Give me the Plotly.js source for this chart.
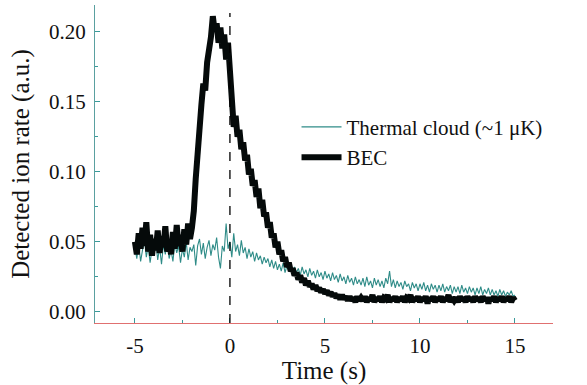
<!DOCTYPE html>
<html>
<head>
<meta charset="utf-8">
<script src="https://cdn.plot.ly/plotly-3.0.1.min.js"></script>
</head>
<body style="margin:0;background:#fff">
<div id="chart" style="width:587px;height:385px"></div>
<script>
const timeS = [
-5.0,-4.9,-4.8,-4.7,-4.6,-4.5,-4.4,-4.3,-4.2,-4.1,
-4.0,-3.9,-3.8,-3.7,-3.6,-3.5,-3.4,-3.3,-3.2,-3.1,
-3.0,-2.9,-2.8,-2.7,-2.6,-2.5,-2.4,-2.3,-2.2,-2.1,
-2.0,-1.9,-1.8,-1.7,-1.6,-1.5,-1.4,-1.3,-1.2,-1.1,
-1.0,-0.9,-0.8,-0.7,-0.6,-0.5,-0.4,-0.3,-0.2,-0.1,
0.0,0.1,0.2,0.3,0.4,0.5,0.6,0.7,0.8,0.9,
1.0,1.1,1.2,1.3,1.4,1.5,1.6,1.7,1.8,1.9,
2.0,2.1,2.2,2.3,2.4,2.5,2.6,2.7,2.8,2.9,
3.0,3.1,3.2,3.3,3.4,3.5,3.6,3.7,3.8,3.9,
4.0,4.1,4.2,4.3,4.4,4.5,4.6,4.7,4.8,4.9,
5.0,5.1,5.2,5.3,5.4,5.5,5.6,5.7,5.8,5.9,
6.0,6.1,6.2,6.3,6.4,6.5,6.6,6.7,6.8,6.9,
7.0,7.1,7.2,7.3,7.4,7.5,7.6,7.7,7.8,7.9,
8.0,8.1,8.2,8.3,8.4,8.5,8.6,8.7,8.8,8.9,
9.0,9.1,9.2,9.3,9.4,9.5,9.6,9.7,9.8,9.9,
10.0,10.1,10.2,10.3,10.4,10.5,10.6,10.7,10.8,10.9,
11.0,11.1,11.2,11.3,11.4,11.5,11.6,11.7,11.8,11.9,
12.0,12.1,12.2,12.3,12.4,12.5,12.6,12.7,12.8,12.9,
13.0,13.1,13.2,13.3,13.4,13.5,13.6,13.7,13.8,13.9,
14.0,14.1,14.2,14.3,14.4,14.5,14.6,14.7,14.8,14.9,
15.0];

const thermalRate = [
0.046,0.038,0.049,0.036,0.044,0.052,0.039,0.047,0.035,0.045,
0.040,0.050,0.037,0.046,0.034,0.048,0.041,0.051,0.038,0.044,
0.036,0.049,0.042,0.047,0.035,0.045,0.039,0.050,0.037,0.046,
0.043,0.048,0.033,0.047,0.052,0.041,0.049,0.038,0.046,0.051,
0.040,0.048,0.044,0.053,0.039,0.031,0.047,0.043,0.063,0.045,
0.050,0.039,0.056,0.043,0.048,0.040,0.051,0.042,0.046,0.038,
0.045,0.039,0.043,0.036,0.042,0.037,0.040,0.034,0.039,0.035,
0.038,0.032,0.037,0.031,0.036,0.030,0.034,0.029,0.035,0.028,
0.033,0.029,0.034,0.027,0.032,0.028,0.031,0.026,0.032,0.027,
0.030,0.025,0.031,0.026,0.029,0.024,0.030,0.025,0.028,0.023,
0.029,0.024,0.027,0.022,0.028,0.023,0.026,0.021,0.027,0.022,
0.025,0.020,0.026,0.021,0.024,0.019,0.025,0.020,0.023,0.019,
0.024,0.018,0.025,0.019,0.022,0.017,0.024,0.019,0.023,0.018,
0.022,0.017,0.024,0.020,0.029,0.018,0.023,0.017,0.022,0.018,
0.021,0.016,0.022,0.018,0.020,0.015,0.021,0.017,0.020,0.015,
0.020,0.016,0.021,0.015,0.019,0.014,0.020,0.016,0.019,0.014,
0.019,0.015,0.020,0.014,0.018,0.015,0.019,0.013,0.018,0.014,
0.018,0.013,0.019,0.014,0.017,0.013,0.018,0.014,0.017,0.012,
0.017,0.013,0.018,0.012,0.016,0.013,0.017,0.012,0.016,0.012,
0.015,0.011,0.016,0.012,0.015,0.011,0.014,0.012,0.015,0.011,
0.012];

const becRate = [
0.050,0.041,0.056,0.045,0.060,0.047,0.064,0.043,0.055,0.040,
0.052,0.044,0.058,0.042,0.054,0.046,0.061,0.043,0.050,0.041,
0.057,0.045,0.062,0.047,0.055,0.043,0.059,0.048,0.063,0.052,
0.060,0.072,0.095,0.118,0.140,0.148,0.163,0.158,0.178,0.186,
0.196,0.211,0.200,0.206,0.192,0.203,0.188,0.198,0.180,0.192,
0.170,0.145,0.132,0.140,0.125,0.130,0.116,0.121,0.108,0.112,
0.098,0.102,0.090,0.094,0.082,0.088,0.074,0.080,0.068,0.071,
0.060,0.064,0.053,0.056,0.046,0.050,0.041,0.044,0.036,0.039,
0.032,0.035,0.029,0.031,0.026,0.028,0.023,0.026,0.021,0.024,
0.019,0.022,0.018,0.020,0.016,0.019,0.015,0.017,0.014,0.016,
0.013,0.015,0.012,0.014,0.011,0.013,0.010,0.012,0.009,0.012,
0.009,0.011,0.008,0.011,0.008,0.010,0.007,0.011,0.008,0.010,
0.008,0.011,0.007,0.010,0.008,0.012,0.007,0.010,0.008,0.011,
0.007,0.010,0.009,0.012,0.007,0.010,0.008,0.011,0.007,0.010,
0.008,0.011,0.007,0.010,0.009,0.012,0.007,0.010,0.008,0.011,
0.007,0.010,0.008,0.011,0.006,0.010,0.008,0.011,0.007,0.010,
0.008,0.011,0.007,0.010,0.008,0.012,0.007,0.010,0.008,0.010,
0.007,0.011,0.008,0.010,0.007,0.011,0.008,0.010,0.007,0.011,
0.008,0.010,0.007,0.011,0.008,0.010,0.006,0.010,0.008,0.011,
0.007,0.010,0.008,0.011,0.007,0.010,0.008,0.011,0.007,0.010,
0.008];

const seriesNames = ["Thermal cloud (~1 \u03bcK)", "BEC"];
const xTickVals = [-5, 0, 5, 10, 15];
const xTickText = ["-5", "0", "5", "10", "15"];
const yTickVals = [0.00, 0.05, 0.10, 0.15, 0.20];
const yTickText = ["0.00", "0.05", "0.10", "0.15", "0.20"];
const markerTime = 0;

const traces = [
  {x: timeS, y: thermalRate, name: seriesNames[0], type: 'scatter', mode: 'lines',
   line: {color: '#2f8c88', width: 1.1}},
  {x: timeS, y: becRate, name: seriesNames[1], type: 'scatter', mode: 'lines',
   line: {color: '#050a0a', width: 6}}
];

const layout = {
  width: 587, height: 385,
  margin: {l: 95, r: 34, t: 5, b: 62},
  paper_bgcolor: '#fff', plot_bgcolor: '#fff',
  font: {family: 'Times New Roman', size: 21, color: '#111'},
  showlegend: true,
  legend: {x: 0.44, y: 0.68, xanchor: 'left', yanchor: 'top', bgcolor: 'rgba(0,0,0,0)',
           tracegroupgap: 0, itemwidth: 40},
  xaxis: {range: [-7.1, 17], tickvals: xTickVals, ticktext: xTickText,
          ticks: 'inside', ticklen: 5, tickcolor: '#3a9a9a', tickwidth: 1,
          minor: {dtick: 2.5, ticks: 'inside', ticklen: 3, tickcolor: '#3a9a9a'},
          showline: true, linecolor: '#e07070', linewidth: 1.3, mirror: false,
          showgrid: false, zeroline: false, ticklabelstandoff: 4,
          title: {text: 'Time (s)', standoff: 6}},
  yaxis: {range: [-0.008, 0.219], tickvals: yTickVals, ticktext: yTickText,
          ticks: 'inside', ticklen: 5, tickcolor: '#3a9a9a', tickwidth: 1,
          minor: {dtick: 0.025, ticks: 'inside', ticklen: 3, tickcolor: '#3a9a9a'},
          showline: true, linecolor: '#5aa0a0', linewidth: 1.3, mirror: false,
          showgrid: false, zeroline: false, ticklabelstandoff: 4,
          title: {text: 'Detected ion rate (a.u.)', standoff: 12}},
  shapes: [{type: 'line', xref: 'x', yref: 'paper', x0: markerTime, x1: markerTime, y0: 0, y1: 0.975,
            line: {color: '#000', width: 1.3, dash: 'dash'}}]
};

Plotly.newPlot('chart', traces, layout, {displayModeBar: false});
</script>
</body>
</html>
